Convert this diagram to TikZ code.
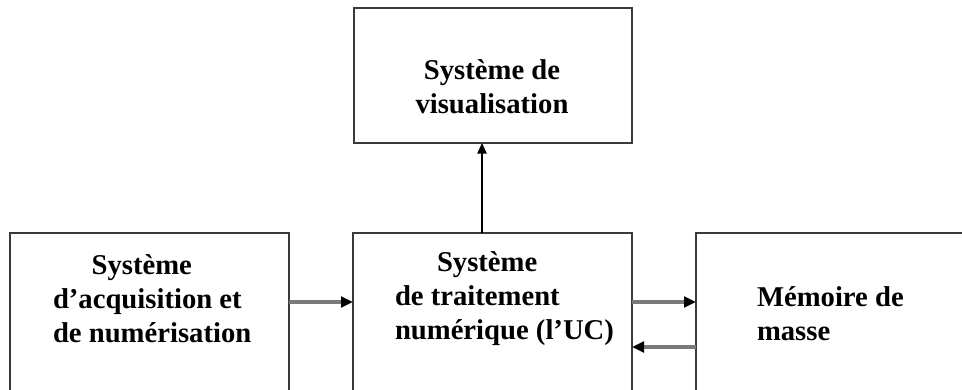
\documentclass[tikz,border=0pt]{standalone}
\usepackage{fontspec}
\setmainfont{Liberation Serif}
\usetikzlibrary{arrows.meta}
\definecolor{boxc}{HTML}{3A3A3A}
\definecolor{linkc}{HTML}{7A7A7A}
\begin{document}
\begin{tikzpicture}[x=0.75pt,y=-0.75pt,
  box/.style={draw=boxc,line width=1.5pt,anchor=north west,inner sep=0pt,outer sep=0pt},
  lbl/.style={font=\bfseries\fontsize{21.5}{25.5}\selectfont,inner sep=0pt,outer sep=0pt},
  link/.style={draw=linkc,line width=2.4pt,-{Triangle[color=black,length=9pt,width=8pt]}},
  uplink/.style={draw=black,line width=1.1pt,-{Triangle[color=black,length=8pt,width=7pt]}}]
\useasboundingbox (0,0) rectangle (962,389);
\begin{scope}
\clip (0,0) rectangle (962,389);
\node[box,minimum width=208.5pt,minimum height=101.25pt] (top) at (354,8) {};
\node[box,minimum width=209.25pt,minimum height=150pt] (left) at (10,233) {};
\node[box,minimum width=209.25pt,minimum height=150pt] (mid) at (353,233) {};
\node[box,minimum width=250pt,minimum height=150pt] (right) at (696,233) {};

\node[lbl,align=center,anchor=base] (ttop) at (492,113) {Système de\\visualisation};
\node[lbl,align=left,anchor=base west] (tleft) at (53,342) {\hspace*{29pt}Système\\d’acquisition et\\de numérisation};
\node[lbl,align=left,anchor=base west] (tmid) at (395,339) {\hspace*{31.5pt}Système\\de traitement\\numérique (l’UC)};
\node[lbl,align=left,anchor=base west] (tright) at (757,340) {Mémoire de\\masse};

\draw[link] (left.east |- 0,302) -- (mid.west |- 0,302);
\draw[link] (mid.east |- 0,302) -- (right.west |- 0,302);
\draw[link] (right.west |- 0,347) -- (mid.east |- 0,347);
\draw[uplink] (mid.north -| 482,0) -- (top.south -| 482,0);
\end{scope}
\end{tikzpicture}
\end{document}
